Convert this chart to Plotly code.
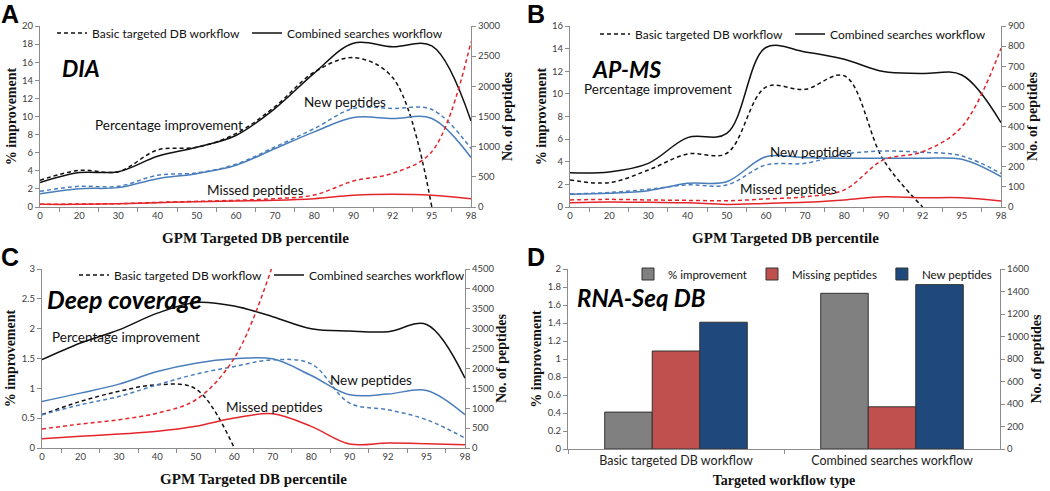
import plotly.graph_objects as go

W, H = 1050, 491

PERCENTILES = ["0", "20", "30", "40", "50", "60", "70", "80", "90", "92", "95", "98"]

# A - DIA
dia_pct_basic = [2.95, 4.05, 3.9, 6.3, 6.6, 8.1, 11.1, 14.9, 16.5, 14.3, 0.0, None]
dia_pct_comb = [2.7, 3.8, 3.9, 5.6, 6.6, 7.9, 10.9, 14.8, 18.1, 17.7, 17.8, 9.5]
dia_new_basic = [260, 343, 343, 526, 565, 708, 996, 1300, 1633, 1633, 1616, 969]
dia_new_comb = [221, 304, 321, 470, 553, 692, 969, 1245, 1483, 1467, 1467, 819]
dia_miss_basic = [44, 50, 55, 77, 94, 111, 138, 199, 431, 559, 917, 2741]
dia_miss_comb = [44, 44, 55, 72, 89, 100, 111, 138, 194, 210, 194, 138]

# B - AP-MS
apms_pct_basic = [2.39, 2.15, 3.27, 4.69, 4.75, 10.6, 10.4, 11.6, 4.15, 0.0, None, None]
apms_pct_comb = [3.03, 3.1, 3.86, 6.13, 6.5, 14.1, 13.7, 13.06, 11.97, 11.8, 11.67, 7.45]
apms_new_basic = [65, 72, 88, 110, 109, 209, 217, 263, 278, 272, 254, 167]
apms_new_comb = [63, 68, 81, 118, 126, 250, 245, 242, 242, 242, 237, 151]
apms_miss_basic = [35, 38, 35, 33, 31, 40, 51, 85, 234, 275, 399, 789]
apms_miss_comb = [21, 25, 23, 21, 13, 18, 23, 35, 51, 46, 46, 30]

# C - Deep coverage
deep_pct_basic = [0.56, 0.78, 0.95, 1.06, 0.99, 0.0, None, None, None, None, None, None]
deep_pct_comb = [1.48, 1.76, 1.98, 2.26, 2.44, 2.38, 2.2, 2.0, 1.96, 1.95, 2.07, 1.17]
deep_new_basic = [836, 1087, 1296, 1589, 1857, 2049, 2217, 2116, 1129, 962, 711, 251]
deep_new_comb = [1171, 1380, 1606, 1924, 2133, 2242, 2242, 1823, 1338, 1355, 1447, 836]
deep_miss_basic = [477, 602, 711, 878, 1213, 2258, 4600, None, None, None, None, None]
deep_miss_comb = [234, 293, 351, 418, 544, 753, 861, 544, 100, 125, 109, 84]

# D - RNA-Seq DB
workflows = ["Basic targeted DB workflow", "Combined searches workflow"]
rna_pct = [0.41, 1.73]
rna_missing = [871, 375]
rna_new = [1127, 1461]

BLACK = "#111111"
BLUE = "#4a7ebb"
RED = "#e3262b"
AXIS = "#8c8c8c"
TICK_FONT = {"family": "Lato", "size": 9.5, "color": "#404040"}
TEXT_FONT = {"family": "Lato", "size": 13.5, "color": "#111111"}
TITLE_FONT = {"family": "Liberation Serif", "size": 15, "color": "#111111"}
DASH = "4px,3px"


def px(x):
    return x / W


def py(y):
    return 1 - y / H


fig = go.Figure()


def add_line_panel(n, legend, pct_b, pct_c, new_b, new_c, miss_b, miss_c):
    xa = "x" if n == 1 else f"x{n}"
    yl = "y" if n == 1 else f"y{2 * n - 1}"
    yr = f"y{2 * n}"
    series = [
        (new_b, yr, BLUE, DASH, None),
        (new_c, yr, BLUE, "solid", None),
        (miss_b, yr, RED, DASH, None),
        (miss_c, yr, RED, "solid", None),
        (pct_b, yl, BLACK, DASH, "Basic targeted DB workflow"),
        (pct_c, yl, BLACK, "solid", "Combined searches workflow"),
    ]
    for values, ya, color, dash, name in series:
        fig.add_trace(
            go.Scatter(
                x=PERCENTILES,
                y=values,
                xaxis=xa,
                yaxis=ya,
                mode="lines",
                name=name,
                showlegend=name is not None,
                legend=legend,
                line={"color": color, "dash": dash, "width": 1.5, "shape": "spline", "smoothing": 1},
                hoverinfo="skip",
            )
        )


add_line_panel(1, "legend", dia_pct_basic, dia_pct_comb, dia_new_basic, dia_new_comb, dia_miss_basic, dia_miss_comb)
add_line_panel(2, "legend2", apms_pct_basic, apms_pct_comb, apms_new_basic, apms_new_comb, apms_miss_basic, apms_miss_comb)
add_line_panel(3, "legend3", deep_pct_basic, deep_pct_comb, deep_new_basic, deep_new_comb, deep_miss_basic, deep_miss_comb)

bar_line = {"color": "#333333", "width": 1}
fig.add_trace(go.Bar(x=workflows, y=rna_pct, name="% improvement", xaxis="x4", yaxis="y7",
                     marker={"color": "#808080", "line": bar_line}, offsetgroup="1", legend="legend4"))
fig.add_trace(go.Bar(x=workflows, y=rna_missing, name="Missing peptides", xaxis="x4", yaxis="y8",
                     marker={"color": "#c0504d", "line": bar_line}, offsetgroup="2", legend="legend4"))
fig.add_trace(go.Bar(x=workflows, y=rna_new, name="New peptides", xaxis="x4", yaxis="y8",
                     marker={"color": "#1f497d", "line": bar_line}, offsetgroup="3", legend="legend4"))

panels = {
    1: {"x": (40, 471), "y": (26, 207), "left": (0, 20, 2), "right": (0, 3000, 500)},
    2: {"x": (570, 1001), "y": (26, 207), "left": (0, 16, 2), "right": (0, 900, 100)},
    3: {"x": (42, 465), "y": (269, 448), "left": (0, 3, 0.5), "right": (0, 4500, 500)},
    4: {"x": (568, 1000), "y": (269, 449), "left": (0, 2, 0.2), "right": (0, 1600, 200)},
}

layout = {}
for n, p in panels.items():
    xkey = "xaxis" if n == 1 else f"xaxis{n}"
    ylkey = "yaxis" if n == 1 else f"yaxis{2 * n - 1}"
    yrkey = f"yaxis{2 * n}"
    ylname = "y" if n == 1 else f"y{2 * n - 1}"
    xname = "x" if n == 1 else f"x{n}"
    xtitle = "Targeted workflow type" if n == 4 else "GPM Targeted DB percentile"
    layout[xkey] = {
        "domain": [px(p["x"][0]), px(p["x"][1])],
        "anchor": ylname,
        "type": "category",
        "automargin": False,
        "showline": True, "linecolor": AXIS, "linewidth": 1,
        "ticks": "outside", "tickson": "boundaries", "ticklen": 4, "tickcolor": AXIS,
        "showgrid": False, "zeroline": False,
        "tickfont": TICK_FONT if n != 4 else {"family": "Lato", "size": 12.5, "color": "#222222"},
        "title": {"text": f"<b>{xtitle}</b>",
                  "font": TITLE_FONT if n != 4 else {**TITLE_FONT, "size": 14},
                  "standoff": 12 if n != 4 else 8},
        "fixedrange": True,
    }
    lo, hi, step = p["left"]
    layout[ylkey] = {
        "domain": [py(p["y"][1]), py(p["y"][0])],
        "anchor": xname,
        "range": [lo, hi],
        "dtick": step,
        "automargin": False,
        "showline": True, "linecolor": AXIS, "linewidth": 1,
        "ticks": "outside", "ticklen": 4, "tickcolor": AXIS,
        "showgrid": False, "zeroline": False,
        "tickfont": TICK_FONT,
        "title": {"text": "<b>% improvement</b>", "font": {**TITLE_FONT, "size": 14}, "standoff": 2},
        "fixedrange": True,
    }
    lo, hi, step = p["right"]
    layout[yrkey] = {
        "overlaying": ylname,
        "anchor": xname,
        "side": "right",
        "range": [lo, hi],
        "dtick": step,
        "automargin": False,
        "showline": True, "linecolor": AXIS, "linewidth": 1,
        "ticks": "outside", "ticklen": 4, "tickcolor": AXIS,
        "showgrid": False, "zeroline": False,
        "tickfont": TICK_FONT,
        "title": {"text": "<b>No. of peptides</b>", "font": {**TITLE_FONT, "size": 14}, "standoff": 0},
        "fixedrange": True,
    }

legend_font = {"family": "Lato", "size": 12, "color": "#111111"}
for key, x, y in [("legend", 52, 33), ("legend2", 595, 34), ("legend3", 74, 275)]:
    layout[key] = {
        "x": px(x), "y": py(y), "xanchor": "left", "yanchor": "middle",
        "orientation": "h", "bgcolor": "rgba(0,0,0,0)", "font": legend_font,
        "entrywidth": 150, "itemwidth": 30, "tracegroupgap": 0,
    }
layout["legend4"] = {
    "x": px(628), "y": py(274), "xanchor": "left", "yanchor": "middle",
    "orientation": "h", "bgcolor": "rgba(0,0,0,0)",
    "font": {**legend_font, "size": 11.5}, "itemwidth": 30,
}

annotations = []
for letter, x, y in [("A", 10, 14), ("B", 536, 14), ("C", 10, 257), ("D", 536, 257)]:
    annotations.append({"text": f"<b>{letter}</b>", "x": px(x), "y": py(y), "xref": "paper", "yref": "paper",
                        "xanchor": "center", "yanchor": "middle", "showarrow": False,
                        "font": {"family": "Liberation Sans", "size": 25, "color": "#000000"}})
for label, x, y, size in [("DIA", 60, 68, 23), ("AP-MS", 590, 69, 23), ("Deep coverage", 45, 299, 25),
                          ("RNA-Seq DB", 575, 297, 24)]:
    annotations.append({"text": f"<b><i>{label}</i></b>", "x": px(x), "y": py(y), "xref": "paper", "yref": "paper",
                        "xanchor": "left", "yanchor": "middle", "showarrow": False,
                        "font": {"family": "Lato", "size": size, "color": "#000000"}})
for label, x, y in [
    ("Percentage improvement", 93, 125), ("New peptides", 302, 102), ("Missed peptides", 205, 190),
    ("Percentage improvement", 582, 89), ("New peptides", 768, 152), ("Missed peptides", 738, 189),
    ("Percentage improvement", 50, 337), ("New peptides", 328, 380), ("Missed peptides", 224, 407),
]:
    annotations.append({"text": label, "x": px(x), "y": py(y), "xref": "paper", "yref": "paper",
                        "xanchor": "left", "yanchor": "middle", "showarrow": False, "font": TEXT_FONT})

fig.update_layout(
    **layout,
    annotations=annotations,
    width=W,
    height=H,
    margin={"l": 0, "r": 0, "t": 0, "b": 0},
    paper_bgcolor="white",
    plot_bgcolor="white",
    barmode="group",
    bargap=0.34,
    bargroupgap=0,
)

fig.write_html("out.html", config={"displayModeBar": False}, post_script="document.body.style.margin='0';")
